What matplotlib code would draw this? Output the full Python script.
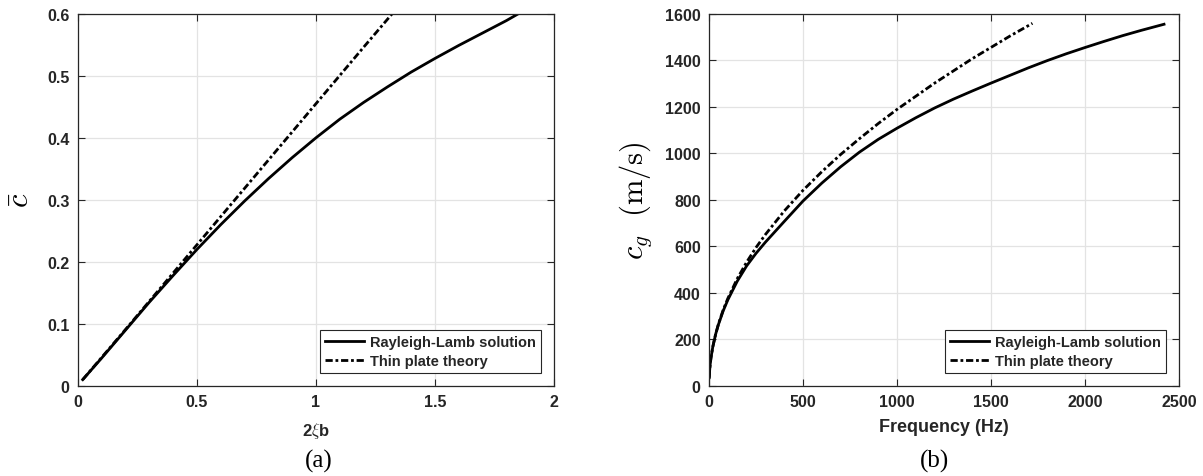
import numpy as np
import matplotlib
matplotlib.use("Agg")
from matplotlib import pyplot as plt

plt.rcParams["font.family"] = ["Liberation Sans", "DejaVu Sans"]
plt.rcParams["mathtext.fontset"] = "cm"

# panel (a): nondimensional phase speed vs 2*xi*b
xb_rl = [0.02, 0.1, 0.2, 0.3, 0.4, 0.5, 0.6, 0.7, 0.8, 0.9, 1.0, 1.1, 1.2,
         1.3, 1.4, 1.5, 1.6, 1.7, 1.8, 1.85]
c_rl = [0.01, 0.045, 0.09, 0.135, 0.178, 0.22, 0.26, 0.298, 0.334, 0.368,
        0.40, 0.43, 0.457, 0.482, 0.506, 0.528, 0.549, 0.569, 0.589, 0.6]
xb_tp = [0.02, 0.2, 0.4, 0.6, 0.8, 1.0, 1.2, 1.32]
c_tp = [0.01, 0.091, 0.182, 0.273, 0.364, 0.455, 0.546, 0.6]

# panel (b): group velocity vs frequency
f_rl = [1, 3, 6, 10, 20, 35, 50, 75, 100, 150, 200, 250, 300, 400, 500, 600,
        700, 800, 900, 1000, 1100, 1200, 1300, 1400, 1500, 1600, 1700, 1800,
        1900, 2000, 2100, 2200, 2300, 2420]
cg_rl = [35, 65, 92, 119, 168, 222, 264, 322, 370, 450, 516, 570, 618, 707,
         795, 872, 942, 1005, 1060, 1108, 1153, 1195, 1233, 1268, 1302, 1335,
         1368, 1399, 1428, 1455, 1481, 1506, 1529, 1555]
f_tp = [1, 3, 6, 10, 20, 35, 50, 75, 100, 150, 200, 250, 300, 400, 500, 600,
        700, 800, 900, 1000, 1200, 1400, 1600, 1720]
cg_tp = [35, 65, 92, 119, 168, 222, 266, 326, 376, 461, 532, 595, 651, 752,
         841, 921, 995, 1063, 1128, 1189, 1302, 1407, 1504, 1559]

labels = ["Rayleigh-Lamb solution", "Thin plate theory"]
tc = "#262626"
dashdot = (2.6, 1.0, 1.0, 1.0)

fig = plt.figure(figsize=(12.03, 4.77), dpi=100)
ax1 = fig.add_axes([0.0648, 0.189, 0.3957, 0.780])
ax2 = fig.add_axes([0.5894, 0.189, 0.3907, 0.780])


def style(ax):
    ax.grid(True, color="#e3e3e3", linewidth=0.9)
    ax.set_axisbelow(True)
    ax.tick_params(direction="in", top=True, right=True, length=5,
                   labelsize=11.5, width=0.8, pad=6, colors=tc)
    for lab in ax.get_xticklabels() + ax.get_yticklabels():
        lab.set_fontweight("bold")
    for s in ax.spines.values():
        s.set_color(tc)
        s.set_linewidth(0.9)
    leg = ax.legend(labels, loc="lower right", fancybox=False,
                    edgecolor=tc, framealpha=1, handlelength=2.7,
                    borderaxespad=0.9, borderpad=0.35, labelspacing=0.3,
                    handletextpad=0.4,
                    prop={"weight": "bold", "size": 10.5})
    leg.get_frame().set_linewidth(0.8)
    for t in leg.get_texts():
        t.set_color(tc)


ax1.plot(xb_rl, c_rl, "k-", lw=2.0)
ax1.plot(xb_tp, c_tp, "k", lw=2.0, dashes=dashdot)
ax1.set_xlim(0, 2)
ax1.set_ylim(0, 0.6)
ax1.set_xticks([0, 0.5, 1, 1.5, 2])
ax1.set_xticklabels(["0", "0.5", "1", "1.5", "2"])
ax1.set_yticks([0, 0.1, 0.2, 0.3, 0.4, 0.5, 0.6])
ax1.set_yticklabels(["0", "0.1", "0.2", "0.3", "0.4", "0.5", "0.6"])
ax1.set_xlabel(r"2$\xi$b", fontsize=12, fontweight="bold", color=tc, labelpad=8)
ax1.set_ylabel(r"$\bar{c}$", fontsize=22, labelpad=8)
style(ax1)
fig.text(0.265, 0.02, "(a)", family="Liberation Serif", fontsize=18, ha="center")

ax2.plot(f_rl, cg_rl, "k-", lw=2.0)
ax2.plot(f_tp, cg_tp, "k", lw=2.0, dashes=dashdot)
ax2.set_xlim(0, 2500)
ax2.set_ylim(0, 1600)
ax2.set_xticks(np.arange(0, 2501, 500))
ax2.set_yticks(np.arange(0, 1601, 200))
ax2.set_xlabel("Frequency (Hz)", fontsize=13, fontweight="bold", color=tc, labelpad=6)
ax2.set_ylabel(r"$c_g\ \ \mathrm{(m/s)}$", fontsize=22, labelpad=8)
style(ax2)
fig.text(0.777, 0.02, "(b)", family="Liberation Serif", fontsize=18, ha="center")

fig.savefig("out.png", dpi=100)
